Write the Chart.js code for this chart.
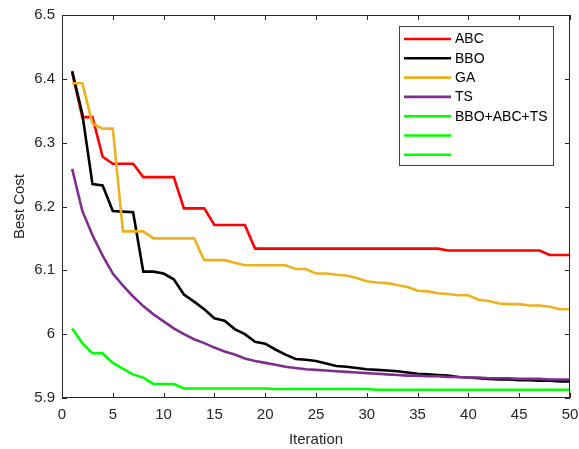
<!DOCTYPE html>
<html lang="en">
<head>
    <meta charset="UTF-8">
    <title>Best Cost vs Iteration</title>
    <script src="https://cdn.jsdelivr.net/npm/chart.js"></script>
    <style>
        html, body { margin: 0; padding: 0; background: #fff; }
        #wrap { width: 579px; height: 449px; }
    </style>
</head>
<body>
    <div id="wrap"><canvas id="chart" width="579" height="449"></canvas></div>

    <script>
        // iterations (x axis)
        const iterations = [1, 2, 3, 4, 5, 6, 7, 8, 9, 10, 11, 12, 13, 14, 15, 16, 17, 18, 19, 20,
            21, 22, 23, 24, 25, 26, 27, 28, 29, 30, 31, 32, 33, 34, 35, 36, 37, 38, 39, 40,
            41, 42, 43, 44, 45, 46, 47, 48, 49, 50];

        const abc = [6.410, 6.340, 6.340, 6.278, 6.267, 6.267, 6.267, 6.246, 6.246, 6.246,
            6.246, 6.197, 6.197, 6.197, 6.171, 6.171, 6.171, 6.171, 6.134, 6.134,
            6.134, 6.134, 6.134, 6.134, 6.134, 6.134, 6.134, 6.134, 6.134, 6.134,
            6.134, 6.134, 6.134, 6.134, 6.134, 6.134, 6.134, 6.131, 6.131, 6.131,
            6.131, 6.131, 6.131, 6.131, 6.131, 6.131, 6.131, 6.124, 6.124, 6.124];

        const bbo = [6.412, 6.345, 6.235, 6.233, 6.193, 6.192, 6.191, 6.098, 6.098, 6.095,
            6.086, 6.062, 6.051, 6.039, 6.025, 6.021, 6.008, 6.000, 5.988, 5.985,
            5.976, 5.968, 5.961, 5.960, 5.958, 5.954, 5.950, 5.949, 5.947, 5.945,
            5.944, 5.943, 5.942, 5.940, 5.938, 5.937, 5.936, 5.935, 5.933, 5.932,
            5.931, 5.930, 5.929, 5.929, 5.928, 5.928, 5.927, 5.927, 5.926, 5.926];

        const ga = [6.393, 6.393, 6.330, 6.322, 6.322, 6.161, 6.161, 6.161, 6.150, 6.150,
            6.150, 6.150, 6.150, 6.116, 6.116, 6.116, 6.112, 6.108, 6.108, 6.108,
            6.108, 6.108, 6.102, 6.102, 6.095, 6.095, 6.093, 6.092, 6.088, 6.083,
            6.081, 6.080, 6.077, 6.074, 6.068, 6.067, 6.064, 6.063, 6.061, 6.061,
            6.054, 6.052, 6.048, 6.047, 6.047, 6.045, 6.045, 6.043, 6.039, 6.039];

        const ts = [6.259, 6.193, 6.155, 6.123, 6.095, 6.076, 6.059, 6.044, 6.031, 6.020,
            6.009, 6.000, 5.992, 5.986, 5.979, 5.973, 5.968, 5.962, 5.958, 5.955,
            5.952, 5.949, 5.947, 5.945, 5.944, 5.943, 5.942, 5.941, 5.940, 5.939,
            5.938, 5.937, 5.936, 5.935, 5.935, 5.934, 5.934, 5.933, 5.933, 5.932,
            5.932, 5.931, 5.931, 5.931, 5.930, 5.930, 5.930, 5.929, 5.929, 5.929];

        const hybrid = [6.009, 5.986, 5.970, 5.970, 5.955, 5.946, 5.937, 5.932, 5.922, 5.922,
            5.922, 5.915, 5.915, 5.915, 5.915, 5.915, 5.915, 5.915, 5.915, 5.915,
            5.914, 5.914, 5.914, 5.914, 5.914, 5.914, 5.914, 5.914, 5.914, 5.914,
            5.913, 5.913, 5.913, 5.913, 5.913, 5.913, 5.913, 5.913, 5.913, 5.913,
            5.913, 5.913, 5.913, 5.913, 5.913, 5.913, 5.913, 5.913, 5.913, 5.913];

        const xTicks = [0, 5, 10, 15, 20, 25, 30, 35, 40, 45, 50];
        const yTicks = [5.9, 6.0, 6.1, 6.2, 6.3, 6.4, 6.5];
        const yTickLabels = ['5.9', '6', '6.1', '6.2', '6.3', '6.4', '6.5'];

        // legend entries (the figure has two extra unlabeled green lines)
        const legendLabels = ['ABC', 'BBO', 'GA', 'TS', 'BBO+ABC+TS', '', ''];
        const legendColors = ['#FF0000', '#000000', '#EDB120', '#7E2F8E', '#00FF00', '#00FF00', '#00FF00'];

        const FONT = 'Liberation Sans, Arial, Helvetica, sans-serif';
        const AXIS = '#262626';

        function toPoints(arr) {
            return arr.map((v, i) => ({ x: iterations[i], y: v }));
        }

        const seriesList = [abc, bbo, ga, ts, hybrid];
        const datasets = seriesList.map((s, i) => ({
            label: legendLabels[i],
            data: toPoints(s),
            borderColor: legendColors[i],
            borderWidth: 2.6,
            pointRadius: 0,
            tension: 0,
            fill: false,
            order: seriesList.length - i // later series on top, as in MATLAB
        }));

        // MATLAB style box, inward ticks and legend
        const matlabBox = {
            id: 'matlabBox',
            afterDraw(chart) {
                const ctx = chart.ctx;
                const a = chart.chartArea;
                const xs = chart.scales.x, ys = chart.scales.y;
                ctx.save();
                ctx.strokeStyle = AXIS;
                ctx.lineWidth = 1;
                ctx.beginPath();
                ctx.rect(a.left + 0.5, a.top + 0.5, a.right - a.left - 1, a.bottom - a.top - 1);
                xTicks.forEach(t => {
                    const px = Math.round(xs.getPixelForValue(t)) + 0.5;
                    ctx.moveTo(px, a.bottom); ctx.lineTo(px, a.bottom - 5);
                    ctx.moveTo(px, a.top); ctx.lineTo(px, a.top + 5);
                });
                yTicks.forEach(t => {
                    const py = Math.round(ys.getPixelForValue(t)) + 0.5;
                    ctx.moveTo(a.left, py); ctx.lineTo(a.left + 5, py);
                    ctx.moveTo(a.right, py); ctx.lineTo(a.right - 5, py);
                });
                ctx.stroke();

                // legend
                const lx = 399.5, ly = 26.5, lw = 154, lh = 139;
                ctx.fillStyle = '#fff';
                ctx.fillRect(lx, ly, lw, lh);
                ctx.strokeStyle = '#404040';
                ctx.strokeRect(lx, ly, lw, lh);
                ctx.font = '14px ' + FONT;
                ctx.textBaseline = 'middle';
                legendLabels.forEach((lab, i) => {
                    const y = 39 + i * 19.3;
                    ctx.strokeStyle = legendColors[i];
                    ctx.lineWidth = 2.6;
                    ctx.beginPath();
                    ctx.moveTo(404, y); ctx.lineTo(451, y);
                    ctx.stroke();
                    ctx.fillStyle = '#000';
                    ctx.fillText(lab, 455, y + 0.5);
                });
                ctx.restore();
            }
        };

        const ctx = document.getElementById('chart').getContext('2d');
        new Chart(ctx, {
            type: 'line',
            data: { datasets: datasets },
            plugins: [matlabBox],
            options: {
                responsive: false,
                animation: false,
                layout: { padding: { top: 15, right: 9, left: 0, bottom: 0 } },
                plugins: {
                    legend: { display: false },
                    tooltip: { enabled: false }
                },
                scales: {
                    x: {
                        type: 'linear',
                        min: 0,
                        max: 50,
                        afterBuildTicks: s => { s.ticks = xTicks.map(v => ({ value: v })); },
                        afterFit: s => { s.height = 51; s.paddingLeft = 0; s.paddingRight = 0; },
                        grid: { display: false, drawTicks: false },
                        border: { display: false },
                        ticks: {
                            padding: 8,
                            color: AXIS,
                            font: { family: FONT, size: 15 },
                            maxRotation: 0
                        },
                        title: {
                            display: true,
                            text: 'Iteration',
                            color: AXIS,
                            font: { family: FONT, size: 15 },
                            padding: { top: 2, bottom: 0 }
                        }
                    },
                    y: {
                        min: 5.9,
                        max: 6.5,
                        afterBuildTicks: s => { s.ticks = yTicks.map(v => ({ value: v })); },
                        afterFit: s => { s.width = 62; s.paddingTop = 0; s.paddingBottom = 0; },
                        grid: { display: false, drawTicks: false },
                        border: { display: false },
                        ticks: {
                            padding: 7,
                            color: AXIS,
                            font: { family: FONT, size: 15 },
                            callback: (v) => {
                                const i = yTicks.findIndex(t => Math.abs(t - v) < 1e-6);
                                return i >= 0 ? yTickLabels[i] : '';
                            }
                        },
                        title: {
                            display: true,
                            text: 'Best Cost',
                            color: AXIS,
                            font: { family: FONT, size: 15 },
                            padding: { top: 11, bottom: 0 }
                        }
                    }
                }
            }
        });
    </script>
</body>
</html>
